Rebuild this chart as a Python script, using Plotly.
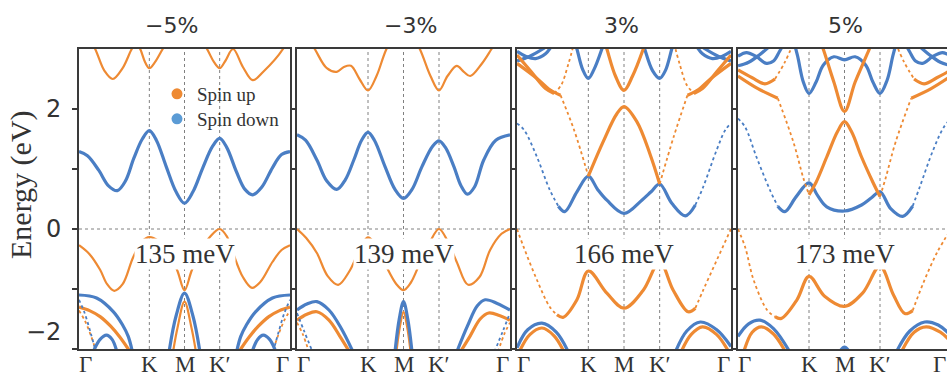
import plotly.graph_objects as go

# ---------------- data ----------------
TITLES = ["\u22125%", "\u22123%", "3%", "5%"]
SPLITTING = ["135 meV", "139 meV", "166 meV", "173 meV"]
K_POS = [0.0, 1.0, 1.5, 2.0, 3.0]
K_LABELS = ["\u0393", "K", "M", "K\u2032", "\u0393"]
Y_TICKS = [-2, -1, 0, 1, 2]
Y_LABELS = ["\u22122", "0", "2"]
Y_LABEL_VALS = [-2, 0, 2]

# ---- panel -5% ----
m5_up_c1 = [(0.00, 3.50), (0.23, 3.00), (0.36, 2.64), (0.48, 2.50), (0.62, 2.68), (0.75, 3.00), (0.81, 3.10),
            (0.87, 3.00), (0.94, 2.78), (1.00, 2.68), (1.08, 2.78), (1.19, 3.00), (1.50, 3.60), (1.82, 3.00),
            (1.92, 2.78), (2.00, 2.68), (2.08, 2.80), (2.19, 3.00), (2.33, 2.70), (2.47, 2.48), (2.62, 2.62),
            (2.90, 3.00), (3.00, 3.25)]
m5_up_v1 = [(0.00, -0.27), (0.15, -0.42), (0.30, -0.68), (0.40, -0.92), (0.50, -1.03), (0.62, -0.92),
            (0.77, -0.47), (0.90, -0.20), (1.00, -0.135), (1.13, -0.20), (1.27, -0.38), (1.40, -0.70),
            (1.50, -1.02), (1.60, -0.70), (1.73, -0.36), (1.87, -0.12), (2.00, 0.00), (2.10, -0.12),
            (2.19, -0.40), (2.33, -0.80), (2.46, -0.98), (2.58, -0.88), (2.75, -0.55), (2.88, -0.35),
            (3.00, -0.27)]
m5_up_v2 = [(0.00, -1.30), (0.15, -1.36), (0.30, -1.46), (0.45, -1.62), (0.58, -1.80), (0.70, -2.00), (0.78, -2.15)]
m5_up_v2r = [(2.22, -2.15), (2.30, -2.00), (2.42, -1.80), (2.55, -1.62), (2.70, -1.46), (2.85, -1.36), (3.00, -1.30)]
m5_up_v3 = [(1.33, -2.10), (1.40, -1.65), (1.50, -1.21), (1.60, -1.65), (1.67, -2.10)]
m5_up_dot = [(0.00, -1.36), (0.08, -1.52), (0.17, -1.78), (0.26, -2.10)]
m5_up_dotr = [(2.74, -2.10), (2.83, -1.78), (2.92, -1.52), (3.00, -1.36)]
m5_dn_c1 = [(0.00, 1.29), (0.12, 1.22), (0.28, 0.98), (0.42, 0.72), (0.545, 0.64), (0.66, 0.80), (0.78, 1.18),
            (0.90, 1.50), (1.00, 1.64), (1.10, 1.48), (1.24, 1.04), (1.38, 0.62), (1.50, 0.43), (1.62, 0.62),
            (1.76, 1.02), (1.90, 1.38), (2.00, 1.51), (2.10, 1.36), (2.24, 0.95), (2.36, 0.66), (2.47, 0.57),
            (2.60, 0.70), (2.75, 1.02), (2.88, 1.24), (3.00, 1.29)]
m5_dn_v1 = [(0.00, -1.10), (0.25, -1.15), (0.49, -1.38), (0.62, -1.60), (0.70, -1.79), (0.76, -2.05)]
m5_dn_v1r = [(2.24, -2.05), (2.30, -1.79), (2.38, -1.60), (2.51, -1.38), (2.75, -1.15), (3.00, -1.10)]
m5_dn_v2 = [(0.20, -2.05), (0.30, -1.84), (0.39, -1.77), (0.47, -1.84), (0.54, -2.05)]
m5_dn_v2r = [(2.46, -2.05), (2.54, -1.84), (2.62, -1.77), (2.71, -1.84), (2.80, -2.05)]
m5_dn_v3 = [(1.28, -2.05), (1.38, -1.45), (1.50, -1.07), (1.62, -1.45), (1.72, -2.05)]
m5_dn_dot = [(0.00, -1.18), (0.08, -1.40), (0.17, -1.75), (0.24, -2.05)]
m5_dn_dotr = [(2.76, -2.05), (2.83, -1.75), (2.92, -1.40), (3.00, -1.18)]

# ---- panel -3% ----
m3_up_c1 = [(0.00, 3.50), (0.25, 3.00), (0.42, 2.68), (0.56, 2.62), (0.66, 2.70), (0.76, 2.72), (0.88, 2.50),
            (1.00, 2.31), (1.12, 2.55), (1.26, 3.00), (1.50, 3.50), (1.73, 3.00), (1.88, 2.55), (2.00, 2.31),
            (2.12, 2.55), (2.25, 2.72), (2.35, 2.62), (2.44, 2.55), (2.60, 2.75), (2.74, 3.00), (3.00, 3.50)]
m3_up_v1 = [(0.00, 0.00), (0.13, -0.15), (0.28, -0.40), (0.43, -0.78), (0.58, -0.93), (0.74, -0.70),
            (0.89, -0.32), (1.00, -0.139), (1.13, -0.30), (1.26, -0.63), (1.40, -0.92), (1.50, -1.02),
            (1.60, -0.90), (1.73, -0.57), (1.87, -0.22), (2.00, 0.00), (2.12, -0.20), (2.25, -0.55),
            (2.41, -0.93), (2.57, -0.80), (2.72, -0.35), (2.88, -0.08), (3.00, 0.00)]
m3_up_v2 = [(0.00, -1.52), (0.14, -1.42), (0.28, -1.38), (0.45, -1.52), (0.60, -1.78), (0.74, -2.05)]
m3_up_v2r = [(2.30, -2.05), (2.44, -1.78), (2.58, -1.50), (2.70, -1.40), (2.85, -1.44), (3.00, -1.52)]
m3_up_v3 = [(1.40, -2.05), (1.45, -1.62), (1.50, -1.38), (1.55, -1.62), (1.60, -2.05)]
m3_up_dot = [(0.00, -1.56), (0.08, -1.75), (0.17, -2.05)]
m3_up_dotr = [(2.83, -2.05), (2.92, -1.75), (3.00, -1.56)]
m3_dn_c1 = [(0.00, 1.57), (0.12, 1.48), (0.28, 1.15), (0.42, 0.80), (0.56, 0.66), (0.68, 0.82), (0.80, 1.15),
            (0.91, 1.48), (1.00, 1.61), (1.09, 1.48), (1.24, 1.04), (1.38, 0.66), (1.50, 0.51), (1.62, 0.66),
            (1.76, 1.04), (1.91, 1.38), (2.00, 1.47), (2.09, 1.36), (2.21, 1.04), (2.31, 0.72), (2.40, 0.58),
            (2.50, 0.70), (2.63, 1.15), (2.80, 1.48), (3.00, 1.57)]
m3_dn_v1 = [(0.00, -1.35), (0.14, -1.25), (0.28, -1.21), (0.45, -1.35), (0.62, -1.65), (0.79, -2.05)]
m3_dn_v1r = [(2.25, -2.05), (2.40, -1.62), (2.54, -1.28), (2.65, -1.18), (2.82, -1.24), (3.00, -1.35)]
m3_dn_v2 = [(1.38, -2.05), (1.44, -1.50), (1.50, -1.21), (1.56, -1.50), (1.62, -2.05)]
m3_dn_dot = [(0.00, -1.40), (0.10, -1.70), (0.22, -2.05)]
m3_dn_dotr = [(2.78, -2.05), (2.90, -1.70), (3.00, -1.40)]

# ---- panel 3% ----
p3_dn_c1a = [(0.00, 1.76), (0.10, 1.65), (0.28, 1.20), (0.46, 0.65), (0.58, 0.38)]
p3_dn_c1b = [(0.58, 0.38), (0.67, 0.29), (0.84, 0.62), (1.00, 0.88), (1.13, 0.66), (1.26, 0.48), (1.50, 0.26),
             (1.75, 0.48), (1.88, 0.62), (2.00, 0.75), (2.17, 0.43), (2.36, 0.22), (2.50, 0.40)]
p3_dn_c1c = [(2.50, 0.40), (2.61, 0.70), (2.80, 1.32), (2.92, 1.65), (3.00, 1.76)]
p3_dn_c2 = [(0.80, 3.15), (0.84, 3.00), (0.92, 2.66), (1.00, 2.51), (1.08, 2.66), (1.19, 3.00), (1.23, 3.15)]
p3_dn_c3 = [(1.75, 3.15), (1.79, 3.00), (1.90, 2.64), (2.00, 2.51), (2.08, 2.64), (2.17, 3.00), (2.21, 3.15)]
p3_dn_c4 = [(0.00, 2.80), (0.18, 2.88), (0.36, 3.00), (0.45, 3.08)]
p3_dn_c5 = [(0.00, 2.96), (0.12, 2.88), (0.26, 2.84), (0.40, 2.92), (0.50, 3.08)]
p3_dn_c4r = [(2.55, 3.08), (2.64, 3.00), (2.82, 2.88), (3.00, 2.80)]
p3_dn_c5r = [(2.50, 3.08), (2.60, 2.92), (2.74, 2.84), (2.88, 2.88), (3.00, 2.96)]
p3_up_c1a = [(0.00, 2.76), (0.28, 2.51), (0.45, 2.33), (0.61, 2.23)]
p3_up_c1b = [(0.61, 2.23), (0.80, 1.65), (1.00, 0.88)]
p3_up_c1c = [(1.00, 0.88), (1.21, 1.46), (1.40, 1.92), (1.50, 2.04), (1.68, 1.79), (1.87, 1.23), (2.00, 0.75)]
p3_up_c1d = [(2.00, 0.75), (2.20, 1.55), (2.39, 2.23)]
p3_up_c1e = [(2.39, 2.23), (2.55, 2.33), (2.72, 2.51), (3.00, 2.76)]
p3_up_c2 = [(1.22, 3.15), (1.26, 3.00), (1.38, 2.55), (1.50, 2.31), (1.62, 2.55), (1.77, 3.00), (1.81, 3.15)]
p3_up_c3a = [(0.00, 2.90), (0.20, 2.62), (0.40, 2.34), (0.52, 2.26)]
p3_up_c3b = [(0.52, 2.26), (0.62, 2.40), (0.72, 2.75), (0.80, 3.10)]
p3_up_c3c = [(2.20, 3.10), (2.28, 2.75), (2.38, 2.40), (2.48, 2.26)]
p3_up_c3d = [(2.48, 2.26), (2.60, 2.34), (2.80, 2.62), (3.00, 2.90)]
p3_up_v1a = [(0.00, 0.00), (0.09, -0.29), (0.28, -0.85), (0.46, -1.30), (0.56, -1.43)]
p3_up_v1b = [(0.56, -1.43), (0.65, -1.47), (0.84, -1.18), (1.00, -0.70), (1.26, -1.07), (1.50, -1.32),
             (1.77, -1.02), (2.00, -0.55), (2.19, -1.02), (2.40, -1.38), (2.50, -1.32)]
p3_up_v1c = [(2.50, -1.32), (2.61, -1.02), (2.80, -0.52), (3.00, 0.00)]
p3_dn_v1 = [(0.00, -1.98), (0.15, -1.68), (0.35, -1.57), (0.55, -1.72), (0.72, -2.05)]
p3_dn_v1r = [(2.22, -2.05), (2.38, -1.70), (2.57, -1.55), (2.80, -1.68), (3.00, -1.96)]
p3_up_v2 = [(0.03, -2.05), (0.18, -1.76), (0.35, -1.65), (0.52, -1.78), (0.66, -2.05)]
p3_up_v2r = [(2.30, -2.05), (2.44, -1.76), (2.60, -1.63), (2.80, -1.76), (2.97, -2.05)]

# ---- panel 5% ----
p5_dn_c1a = [(0.00, 1.84), (0.10, 1.70), (0.26, 1.20), (0.45, 0.65), (0.56, 0.38)]
p5_dn_c1b = [(0.56, 0.38), (0.66, 0.29), (0.82, 0.54), (1.00, 0.77), (1.12, 0.56), (1.25, 0.37), (1.50, 0.30),
             (1.74, 0.40), (1.88, 0.52), (2.00, 0.62), (2.15, 0.34), (2.32, 0.21), (2.46, 0.38)]
p5_dn_c1c = [(2.46, 0.38), (2.56, 0.70), (2.75, 1.32), (2.90, 1.70), (3.00, 1.84)]
p5_dn_c2 = [(0.78, 3.15), (0.84, 2.88), (0.92, 2.45), (1.00, 2.26), (1.10, 2.45), (1.20, 2.73), (1.35, 2.87),
            (1.50, 2.82), (1.65, 2.87), (1.80, 2.73), (1.90, 2.45), (2.00, 2.26), (2.10, 2.48), (2.18, 2.88),
            (2.24, 3.15)]
p5_dn_c3 = [(0.00, 2.72), (0.15, 2.78), (0.30, 2.90), (0.45, 3.05)]
p5_dn_c4 = [(0.00, 2.88), (0.12, 2.94), (0.25, 2.88), (0.40, 2.76), (0.50, 2.80), (0.58, 2.95), (0.64, 3.08)]
p5_dn_c3r = [(2.55, 3.05), (2.70, 2.90), (2.85, 2.78), (3.00, 2.72)]
p5_dn_c4r = [(2.36, 3.08), (2.42, 2.95), (2.50, 2.80), (2.60, 2.76), (2.75, 2.88), (2.88, 2.94), (3.00, 2.88)]
p5_up_c1a = [(0.00, 2.55), (0.28, 2.34), (0.56, 2.18)]
p5_up_c1b = [(0.56, 2.18), (0.78, 1.45), (0.92, 0.85), (1.00, 0.57)]
p5_up_c1c = [(1.00, 0.57), (1.10, 0.78), (1.25, 1.20), (1.40, 1.62), (1.50, 1.79), (1.60, 1.62), (1.74, 1.20),
             (1.90, 0.78), (2.00, 0.54)]
p5_up_c1d = [(2.00, 0.54), (2.08, 0.85), (2.22, 1.45), (2.44, 2.18)]
p5_up_c1e = [(2.44, 2.18), (2.72, 2.34), (3.00, 2.55)]
p5_up_c2 = [(1.15, 3.15), (1.20, 3.00), (1.35, 2.45), (1.50, 1.96), (1.65, 2.45), (1.85, 3.00), (1.90, 3.15)]
p5_up_c3a = [(0.00, 2.65), (0.20, 2.52), (0.38, 2.42), (0.52, 2.50)]
p5_up_c3b = [(0.52, 2.50), (0.66, 2.78), (0.78, 3.10)]
p5_up_c3c = [(2.22, 3.10), (2.34, 2.78), (2.48, 2.50)]
p5_up_c3d = [(2.48, 2.50), (2.62, 2.42), (2.80, 2.52), (3.00, 2.65)]
p5_up_v1a = [(0.00, 0.00), (0.10, -0.30), (0.22, -0.85), (0.41, -1.35), (0.52, -1.46)]
p5_up_v1b = [(0.52, -1.46), (0.61, -1.49), (0.83, -1.18), (1.00, -0.79), (1.22, -1.12), (1.50, -1.29),
             (1.76, -1.06), (2.00, -0.62), (2.19, -1.10), (2.35, -1.41), (2.46, -1.36)]
p5_up_v1c = [(2.46, -1.36), (2.61, -0.90), (2.80, -0.40), (3.00, 0.00)]
p5_dn_v1 = [(0.00, -1.79), (0.15, -1.58), (0.31, -1.52), (0.50, -1.66), (0.73, -2.05)]
p5_dn_v1r = [(2.23, -2.05), (2.42, -1.70), (2.63, -1.55), (2.82, -1.60), (3.00, -1.78)]
p5_up_v2 = [(0.08, -2.05), (0.20, -1.72), (0.33, -1.63), (0.50, -1.75), (0.67, -2.05)]
p5_up_v2r = [(2.30, -2.05), (2.48, -1.72), (2.65, -1.63), (2.85, -1.72), (3.00, -1.88)]
p5_dn_v2 = [(1.40, -2.10), (1.50, -1.97), (1.60, -2.10)]

# ---------------- styling ----------------
ORANGE = "#EE8A33"
BLUE = "#4A7EC4"
SPIN_COLOR = {"up": ORANGE, "dn": BLUE}
STYLE = {"thick": dict(width=3.2), "med": dict(width=2.2), "thin": dict(width=1.8, dash="dot")}

SEGMENTS = [
    (0, "up", m5_up_c1, "med"), (0, "up", m5_up_v1, "med"), (0, "up", m5_up_v2, "thick"),
    (0, "up", m5_up_v2r, "thick"), (0, "up", m5_up_v3, "med"), (0, "up", m5_up_dot, "thin"),
    (0, "up", m5_up_dotr, "thin"),
    (0, "dn", m5_dn_c1, "thick"), (0, "dn", m5_dn_v1, "thick"), (0, "dn", m5_dn_v1r, "thick"),
    (0, "dn", m5_dn_v2, "thick"), (0, "dn", m5_dn_v2r, "thick"), (0, "dn", m5_dn_v3, "thick"),
    (0, "dn", m5_dn_dot, "thin"), (0, "dn", m5_dn_dotr, "thin"),

    (1, "up", m3_up_c1, "med"), (1, "up", m3_up_v1, "med"), (1, "up", m3_up_v2, "thick"),
    (1, "up", m3_up_v2r, "thick"), (1, "up", m3_up_v3, "med"), (1, "up", m3_up_dot, "thin"),
    (1, "up", m3_up_dotr, "thin"),
    (1, "dn", m3_dn_c1, "thick"), (1, "dn", m3_dn_v1, "thick"), (1, "dn", m3_dn_v1r, "thick"),
    (1, "dn", m3_dn_v2, "thick"), (1, "dn", m3_dn_dot, "thin"), (1, "dn", m3_dn_dotr, "thin"),

    (2, "dn", p3_dn_c1a, "thin"), (2, "dn", p3_dn_c1b, "thick"), (2, "dn", p3_dn_c1c, "thin"),
    (2, "dn", p3_dn_c2, "thick"), (2, "dn", p3_dn_c3, "thick"), (2, "dn", p3_dn_c4, "thick"),
    (2, "dn", p3_dn_c5, "thick"), (2, "dn", p3_dn_c4r, "thick"), (2, "dn", p3_dn_c5r, "thick"),
    (2, "up", p3_up_c1a, "thick"), (2, "up", p3_up_c1b, "thin"), (2, "up", p3_up_c1c, "thick"),
    (2, "up", p3_up_c1d, "thin"), (2, "up", p3_up_c1e, "thick"), (2, "up", p3_up_c2, "thick"),
    (2, "up", p3_up_c3a, "thick"), (2, "up", p3_up_c3b, "thin"), (2, "up", p3_up_c3c, "thin"),
    (2, "up", p3_up_c3d, "thick"),
    (2, "up", p3_up_v1a, "thin"), (2, "up", p3_up_v1b, "thick"), (2, "up", p3_up_v1c, "thin"),
    (2, "dn", p3_dn_v1, "thick"), (2, "dn", p3_dn_v1r, "thick"),
    (2, "up", p3_up_v2, "thick"), (2, "up", p3_up_v2r, "thick"),

    (3, "dn", p5_dn_c1a, "thin"), (3, "dn", p5_dn_c1b, "thick"), (3, "dn", p5_dn_c1c, "thin"),
    (3, "dn", p5_dn_c2, "thick"), (3, "dn", p5_dn_c3, "thick"), (3, "dn", p5_dn_c4, "thick"),
    (3, "dn", p5_dn_c3r, "thick"), (3, "dn", p5_dn_c4r, "thick"),
    (3, "up", p5_up_c1a, "thick"), (3, "up", p5_up_c1b, "thin"), (3, "up", p5_up_c1c, "thick"),
    (3, "up", p5_up_c1d, "thin"), (3, "up", p5_up_c1e, "thick"), (3, "up", p5_up_c2, "thick"),
    (3, "up", p5_up_c3a, "thick"), (3, "up", p5_up_c3b, "thin"), (3, "up", p5_up_c3c, "thin"),
    (3, "up", p5_up_c3d, "thick"),
    (3, "up", p5_up_v1a, "thin"), (3, "up", p5_up_v1b, "thick"), (3, "up", p5_up_v1c, "thin"),
    (3, "dn", p5_dn_v1, "thick"), (3, "dn", p5_dn_v1r, "thick"),
    (3, "up", p5_up_v2, "thick"), (3, "up", p5_up_v2r, "thick"), (3, "dn", p5_dn_v2, "thick"),
]

# ---------------- layout geometry (pixels) ----------------
W, H = 947, 376
PANEL_PX = [(79, 290), (297, 510), (517, 731), (738, 951)]
TOP_PX, BOT_PX = 49, 349
TITLE_X_PX = [171, 410, 621, 845]
TITLE_Y_PX = 25
FRAME = "#3a3a3a"
TEXT = "#333333"
SERIF = "Liberation Serif, Times New Roman, serif"
SANS = "DejaVu Sans, sans-serif"
# horizontal nudges (px) that keep the Γ labels of neighbouring panels apart
LABEL_SHIFT = [6, 0, 0, 0, -8]
EDGE_LABEL_PX = 939

fig = go.Figure()


def ax_names(i):
    s = "" if i == 0 else str(i + 1)
    return "x" + s, "y" + s


for panel, spin, pts, style in SEGMENTS:
    xa, ya = ax_names(panel)
    fig.add_trace(go.Scatter(
        x=[p[0] for p in pts], y=[p[1] for p in pts], mode="lines",
        line=dict(color=SPIN_COLOR[spin], shape="spline", **STYLE[style]),
        xaxis=xa, yaxis=ya, showlegend=False, hoverinfo="skip"))

# legend entries (one legend box each, to set the row spacing)
LEG_ROWS_PX = [75, 100]
for (name, col), lg in zip([("Spin up", ORANGE), ("Spin down", "#5B9BD5")], ["legend", "legend2"]):
    fig.add_trace(go.Scatter(x=[None], y=[None], mode="markers", name=name, legend=lg,
                             marker=dict(color=col, size=11), xaxis="x", yaxis="y"))

y_dom = [(H - BOT_PX) / H, (H - TOP_PX) / H]
leg_common = dict(x=157 / W, xanchor="left", yanchor="top", bgcolor="rgba(0,0,0,0)",
                  font=dict(family=SERIF, size=19, color=TEXT), itemwidth=30)
layout = dict(width=W, height=H, margin=dict(l=0, r=0, t=0, b=0),
              paper_bgcolor="white", plot_bgcolor="white", showlegend=True,
              legend=dict(y=(H - LEG_ROWS_PX[0]) / H, **leg_common),
              legend2=dict(y=(H - LEG_ROWS_PX[1]) / H, **leg_common))
shapes = []
annotations = []
for i in range(4):
    xa, ya = ax_names(i)
    l_px, r_px = PANEL_PX[i]
    right = min(r_px, W)
    x_hi = 3.0 * (right - l_px) / (r_px - l_px)
    dom = [l_px / W, right / W]
    xkey = "xaxis" if i == 0 else "xaxis%d" % (i + 1)
    ykey = "yaxis" if i == 0 else "yaxis%d" % (i + 1)
    layout[xkey] = dict(domain=dom, range=[0, x_hi], anchor=ya, showticklabels=False,
                        ticks="", showgrid=False, zeroline=False, showline=True, mirror=True,
                        linecolor=FRAME, linewidth=2)
    layout[ykey] = dict(domain=y_dom, range=[-2, 3], anchor=xa, tickvals=Y_TICKS, ticks="outside",
                        ticklen=5, tickwidth=1.5, tickcolor=FRAME, showticklabels=False,
                        showgrid=False, zeroline=False, showline=True, mirror=(r_px <= W),
                        linecolor=FRAME, linewidth=2)
    for k in K_POS[1:4]:
        shapes.append(dict(type="line", xref=xa, yref=ya + " domain", x0=k, x1=k, y0=0, y1=1,
                           line=dict(color="#808080", width=1, dash="3px,3px"), layer="below"))
    shapes.append(dict(type="line", xref=xa + " domain", yref=ya, x0=0, x1=1, y0=0, y1=0,
                       line=dict(color="#808080", width=1, dash="3px,3px"), layer="below"))
    # high-symmetry point labels
    for k, lab, sh in zip(K_POS, K_LABELS, LABEL_SHIFT):
        if k <= x_hi:
            annotations.append(dict(text=lab, xref=xa, yref="paper", x=k, y=(H - BOT_PX) / H,
                                    xanchor="center", yanchor="top", xshift=sh, yshift=-1,
                                    showarrow=False, font=dict(family=SERIF, size=23, color=TEXT)))
        else:
            annotations.append(dict(text=lab, xref="paper", yref="paper", x=EDGE_LABEL_PX / W,
                                    y=(H - BOT_PX) / H, xanchor="center", yanchor="top", yshift=-1,
                                    showarrow=False, font=dict(family=SERIF, size=23, color=TEXT)))
    annotations.append(dict(text=TITLES[i], xref="paper", yref="paper", x=TITLE_X_PX[i] / W,
                            y=(H - TITLE_Y_PX) / H, showarrow=False, xanchor="center", yanchor="middle",
                            font=dict(family=SANS, size=22, color=TEXT)))
    annotations.append(dict(text=SPLITTING[i], xref=xa, yref=ya, x=K_POS[2], y=-0.42, showarrow=False,
                            xanchor="center", yanchor="middle", bgcolor="white", borderpad=0,
                            font=dict(family=SERIF, size=27, color=TEXT)))

for lab, v in zip(Y_LABELS, Y_LABEL_VALS):
    annotations.append(dict(text=lab, xref="paper", yref="y", x=(PANEL_PX[0][0] - 16) / W, y=v,
                            xanchor="right", yanchor="middle", showarrow=False,
                            yshift=17 if v == min(Y_LABEL_VALS) else 0,
                            font=dict(family=SANS, size=24, color=TEXT)))

annotations.append(dict(text="Energy (eV)", xref="paper", yref="paper", x=21 / W, y=(H - 185) / H,
                        textangle=-90, showarrow=False, xanchor="center", yanchor="middle",
                        font=dict(family=SERIF, size=30, color=TEXT)))

layout["shapes"] = shapes
layout["annotations"] = annotations
fig.update_layout(**layout)
fig.write_html("out.html")
